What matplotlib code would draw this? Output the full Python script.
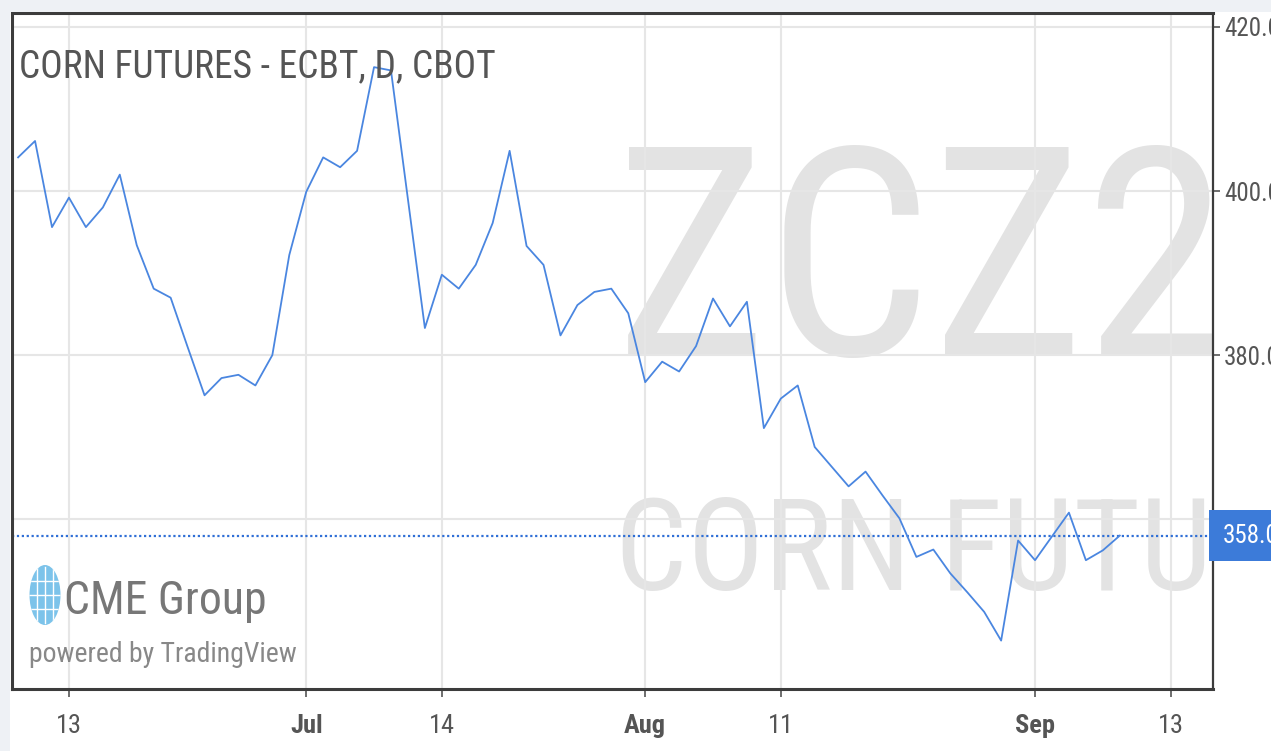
import matplotlib
matplotlib.use("Agg")
import matplotlib.pyplot as plt
import matplotlib.transforms as mtransforms
from matplotlib.patches import Ellipse, Rectangle

# ZCZ2017 daily closes, one per trading day (Jun 8 .. Sep 11, 2017)
dates = ["06-08", "06-09", "06-12", "06-13", "06-14", "06-15", "06-16",
         "06-19", "06-20", "06-21", "06-22", "06-23", "06-26", "06-27",
         "06-28", "06-29", "06-30", "07-03", "07-05", "07-06", "07-07",
         "07-10", "07-11", "07-12", "07-13", "07-14", "07-17", "07-18",
         "07-19", "07-20", "07-21", "07-24", "07-25", "07-26", "07-27",
         "07-28", "07-31", "08-01", "08-02", "08-03", "08-04", "08-07",
         "08-08", "08-09", "08-10", "08-11", "08-14", "08-15", "08-16",
         "08-17", "08-18", "08-21", "08-22", "08-23", "08-24", "08-25",
         "08-28", "08-29", "08-30", "08-31", "09-01", "09-05", "09-06",
         "09-07", "09-08", "09-11"]
closes = [404.1, 406.1, 395.6, 399.2, 395.6, 398.0, 402.0,
          393.4, 388.1, 387.0, 381.0, 375.1, 377.2, 377.6,
          376.3, 380.0, 392.2, 399.9, 404.1, 402.9, 404.9,
          415.1, 414.7, 399.0, 383.3, 389.8, 388.1, 391.0,
          396.1, 404.9, 393.3, 391.0, 382.4, 386.1, 387.7,
          388.1, 385.1, 376.7, 379.2, 378.0, 381.1, 386.9,
          383.5, 386.5, 371.1, 374.7, 376.3, 368.8, 366.4,
          364.0, 365.8, 362.9, 360.1, 355.4, 356.3, 353.4,
          351.1, 348.7, 345.2, 357.4, 355.0, 357.9, 360.8,
          355.0, 356.2, 358.0]

tick_labels = ["13", "Jul", "14", "Aug", "11", "Sep", "13"]
tick_pos = [3, 17, 25, 37, 45, 60, 68]   # bar index (Sep 13 is past the data)
month_labels = ["Jul", "Aug", "Sep"]
y_ticks = [360, 380, 400, 420]
last_price = closes[-1]

narrow = ["Roboto Condensed", "Open Sans Condensed", "IBM Plex Sans Condensed", "DejaVu Sans"]
plt.rcParams["font.family"] = narrow

W, H = 1271, 751
fig = plt.figure(figsize=(W / 100, H / 100), dpi=100, facecolor="white")

# page background strips (top and left)
fig.patches.append(Rectangle((0, 1 - 12 / H), 1, 12 / H, transform=fig.transFigure,
                             facecolor="#eef1f5", edgecolor="none", zorder=0))
fig.patches.append(Rectangle((0, 0), 10 / W, 1, transform=fig.transFigure,
                             facecolor="#eef1f5", edgecolor="none", zorder=0))

ax = fig.add_axes([12 / W, 1 - 689 / H, 1201 / W, 676 / H])
ax.set_facecolor("white")

# watermarks
ax.text(0.502, 0.494, "ZCZ2017", transform=ax.transAxes, fontsize=210,
        color="#e3e3e3", ha="left", va="baseline", clip_on=True, zorder=0)
ax.text(0.502, 0.147, "CORN FUTURES", transform=ax.transAxes, fontsize=92,
        color="#e3e3e3", ha="left", va="baseline", clip_on=True, zorder=0)

x = list(range(len(closes)))
ax.plot(x, closes, color="#4a86e0", lw=1.3, zorder=3)
ax.axhline(last_price, color="#2f6fd6", lw=1.6, ls=(0, (1, 1.2)), zorder=2)

ax.set_xlim(-0.36, 70.5)
ax.set_ylim(339.3, 421.7)

ax.set_xticks(tick_pos)
ax.set_xticklabels(tick_labels)
for lbl in ax.get_xticklabels():
    if lbl.get_text() in month_labels:
        lbl.set_fontweight("bold")
ax.set_yticks(y_ticks)
ax.set_yticklabels([f"{v:.1f}" for v in y_ticks])
ax.yaxis.tick_right()

ax.grid(True, color="#e6e6e6", lw=1.5, zorder=0)
ax.tick_params(axis="x", length=6, width=1.2, color="#555555", labelsize=19,
               labelcolor="#555555", pad=12)
ax.tick_params(axis="y", length=5, width=1.2, color="#555555", labelsize=18,
               labelcolor="#555555", pad=3)
for side, w in [("top", 2.2), ("left", 2.2), ("bottom", 2.2), ("right", 1.6)]:
    ax.spines[side].set_color("#3c3c3c")
    ax.spines[side].set_linewidth(w)

# last price tag on the price axis
trans = mtransforms.blended_transform_factory(ax.transAxes, ax.transData)
ax.annotate(f"{last_price:.1f}", xy=(1, last_price), xycoords=trans,
            xytext=(7, 0), textcoords="offset points", ha="left", va="center",
            fontsize=18, color="white", annotation_clip=False, zorder=6,
            bbox=dict(boxstyle="square,pad=0.55", fc="#3c7bd9", ec="none"))

# title
ax.text(0.006, 0.905, "CORN FUTURES - ECBT, D, CBOT", transform=ax.transAxes,
        fontsize=27, color="#555555", ha="left", va="baseline", zorder=5)

# CME Group / TradingView logo
globe = Ellipse((45 / W, 1 - 595 / H), 31 / W, 60 / H, transform=fig.transFigure,
                facecolor="#7cc3ea", edgecolor="none", zorder=5)
fig.patches.append(globe)
for dx in (-8, 0, 8):
    fig.add_artist(plt.Line2D([(45 + dx) / W] * 2, [1 - 567 / H, 1 - 623 / H],
                              transform=fig.transFigure, color="white", lw=1.0,
                              clip_path=globe, zorder=6))
for dy in (-14, 0, 14):
    fig.add_artist(plt.Line2D([29 / W, 61 / W], [1 - (595 + dy) / H] * 2,
                              transform=fig.transFigure, color="white", lw=1.0,
                              clip_path=globe, zorder=6))
fig.text(64 / W, 1 - 614 / H, "CME Group", fontsize=33, color="#777777",
         ha="left", va="baseline")
fig.text(29 / W, 1 - 662 / H, "powered by TradingView", fontsize=20,
         color="#888888", ha="left", va="baseline")

fig.savefig("out.png", dpi=100, facecolor=fig.get_facecolor())
